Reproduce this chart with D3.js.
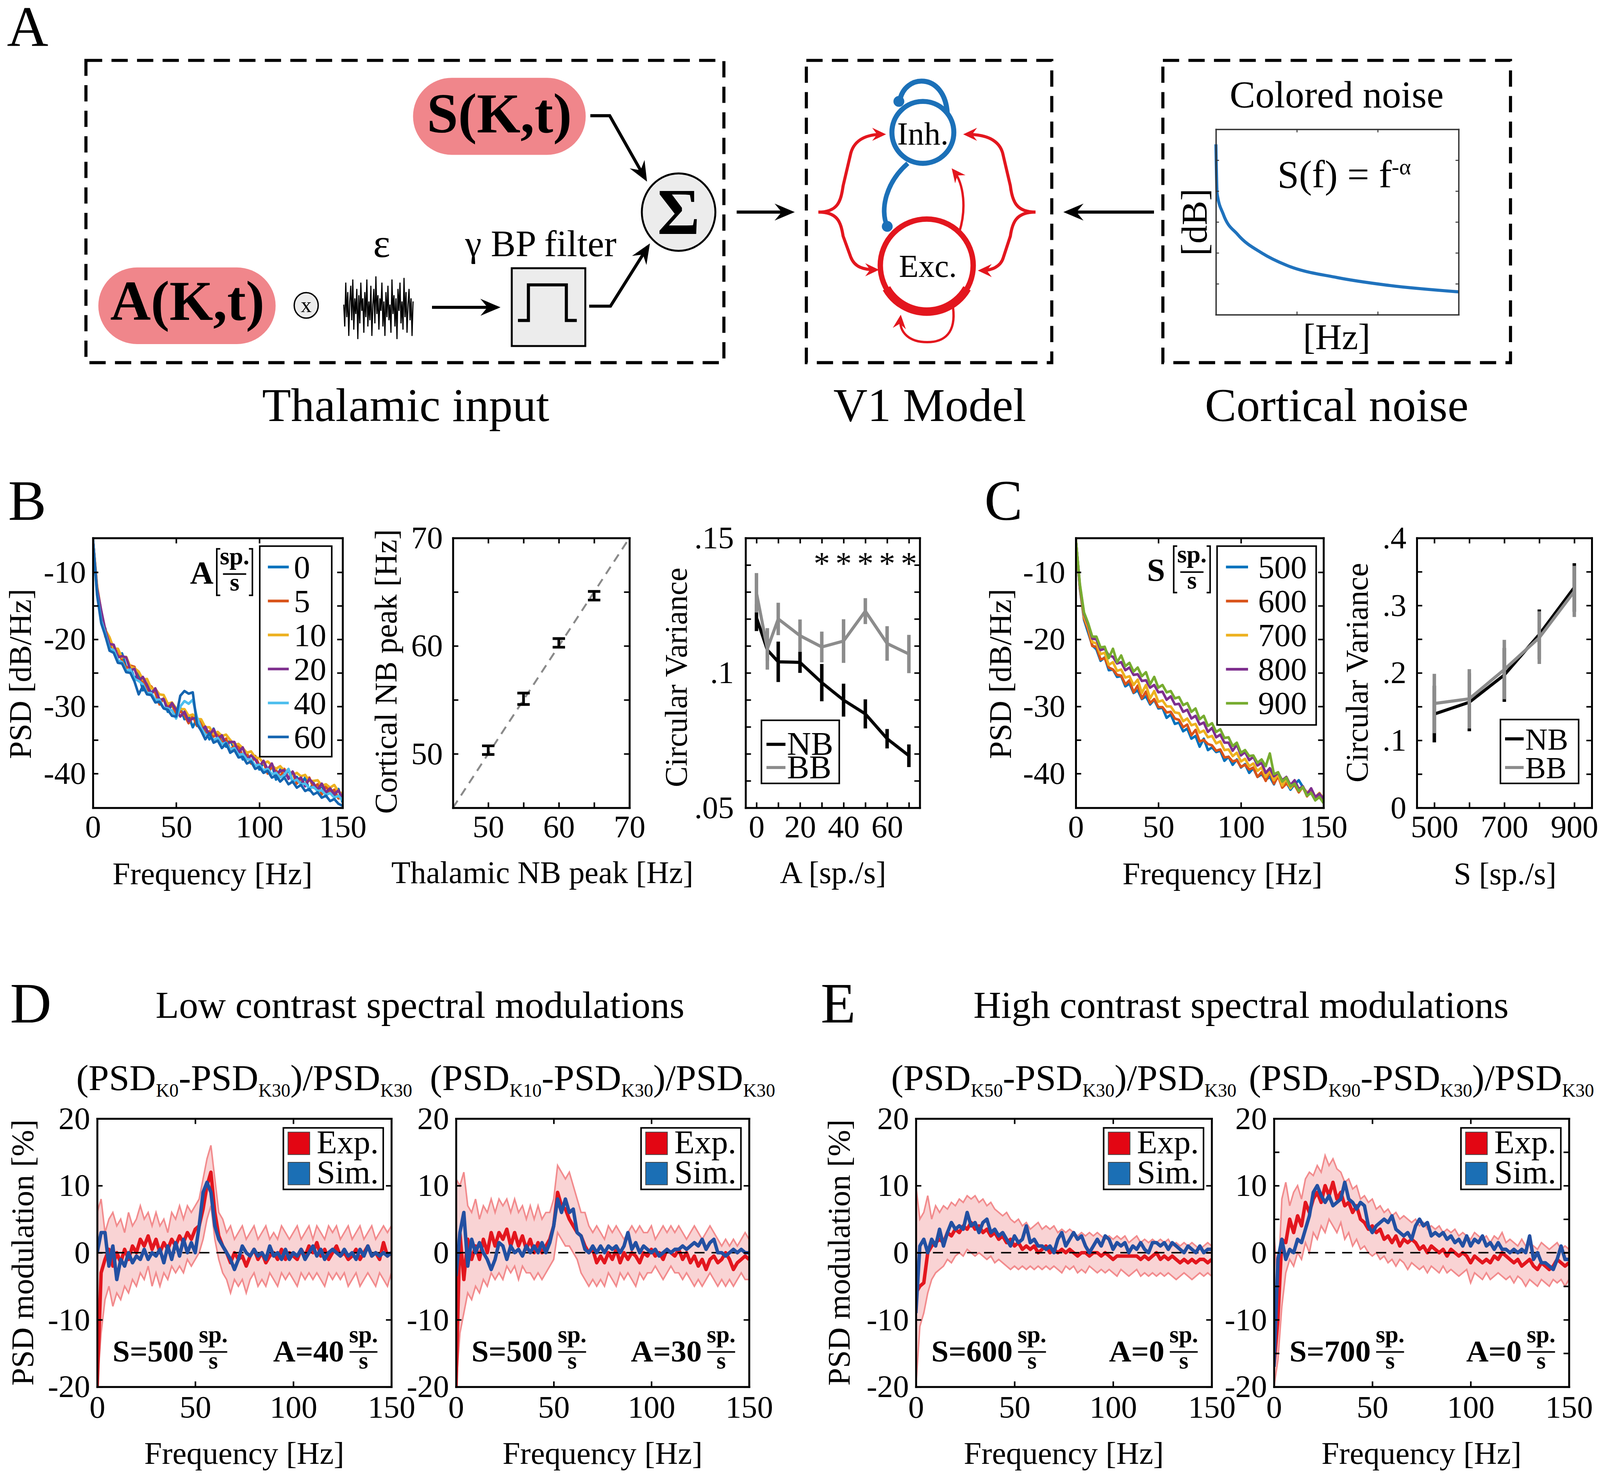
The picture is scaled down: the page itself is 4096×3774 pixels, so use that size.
<!DOCTYPE html>
<html><head><meta charset="utf-8">
<script src="https://cdn.jsdelivr.net/npm/d3@7"></script>
<style>
html,body{margin:0;padding:0;background:#fff;}
svg{display:block;background:#fff;}
</style></head><body>
<svg id="fig" width="4096" height="3774"></svg>
<script>
// ------------------------------------------------------------------ DATA
// Panel A: noise icon (epsilon) and colored-noise curve
const epsNoise = [0.1,-0.6,0.8,-0.3,0.5,-0.9,0.2,0.7,-0.4,0.9,-0.7,0.3,-0.2,0.6,-1.0,0.4,-0.5,0.8,-0.1,0.3,-0.8,0.5,-0.3,0.9,-0.6,0.2,-0.4,0.7,-0.9,0.1,0.6,-0.5,1.0,-0.2,0.4,-0.7,0.3,-0.1,0.8,-0.6,0.2,-0.9,0.5,-0.3,0.7,-0.4,0.1,-0.8,0.9,-0.2,0.4,-0.6,0.3,-1.0,0.6,-0.1,0.8,-0.5,0.2,-0.7,0.95,-0.3,0.5,-0.8,0.1,0.6,-0.4,0.3,-0.9,0.2];
const colNoiseF = [0, 0.005, 0.03, 0.09, 0.19, 0.29, 0.5, 0.7, 1.0];
const colNoiseP = [0.919, 0.653, 0.543, 0.432, 0.332, 0.267, 0.200, 0.160, 0.123];

// Panel B1: PSD vs frequency for A values (2.5 Hz grid)
const freqB = d3.range(0, 150.01, 2.5);
const legendA = ["0","5","10","20","40","60"];
const colorsA = ["#0072BD","#D95319","#EDB120","#7E2F8E","#4DBEEE","#1565b0"];
const psdA0  = [-5,-12.5,-17.0,-18.4,-21.3,-21.1,-22.6,-22.1,-24.2,-24.1,-25.9,-25.0,-27.6,-26.7,-28.0,-27.4,-29.5,-28.8,-30.8,-29.7,-31.0,-30.2,-31.9,-31.4,-33.1,-31.8,-33.6,-33.1,-34.9,-33.3,-34.9,-34.4,-36.0,-35.0,-36.4,-35.6,-37.9,-37.0,-38.3,-37.4,-39.4,-38.4,-39.6,-38.6,-40.9,-39.4,-40.5,-39.4,-41.3,-40.5,-41.6,-40.6,-42.5,-41.4,-42.7,-41.7,-43.4,-42.2,-43.5,-42.3,-44.3];
const psdA5  = [-5,-12.2,-16.3,-19.6,-20.0,-21.8,-21.5,-23.2,-24.3,-23.9,-24.1,-26.2,-26.1,-27.8,-27.0,-28.0,-29.7,-28.8,-30.1,-29.6,-31.4,-30.7,-31.3,-32.5,-31.4,-32.9,-32.1,-34.2,-33.7,-34.5,-33.8,-35.5,-34.8,-36.5,-35.8,-35.9,-37.4,-37.0,-38.5,-37.4,-38.8,-38.3,-40.0,-39.0,-39.5,-40.5,-39.3,-40.7,-39.9,-41.5,-40.7,-41.8,-40.6,-42.1,-41.6,-43.1,-41.9,-42.9,-42.4,-43.7,-43.6];
const psdA10 = [-5,-12.0,-15.9,-18.6,-19.7,-21.4,-21.4,-22.7,-22.6,-24.1,-24.3,-24.8,-26.0,-25.9,-27.3,-27.4,-28.2,-28.3,-29.6,-29.4,-30.3,-30.4,-30.4,-31.4,-31.2,-31.9,-31.9,-33.1,-33.1,-34.1,-33.8,-34.4,-34.2,-35.0,-35.7,-35.6,-36.2,-36.9,-36.7,-37.6,-37.7,-38.5,-38.2,-38.8,-39.3,-38.9,-39.6,-39.5,-40.2,-39.9,-40.4,-40.2,-41.1,-41.1,-41.0,-41.8,-41.6,-42.1,-41.7,-42.7,-43.0];
const psdA20 = [-5,-12.4,-15.7,-18.7,-20.7,-20.8,-22.7,-22.5,-22.7,-24.6,-24.4,-26.2,-25.6,-26.8,-28.2,-27.3,-29.0,-28.9,-30.5,-29.5,-30.5,-31.5,-30.8,-32.2,-31.8,-31.7,-33.6,-33.0,-34.3,-33.4,-34.8,-34.3,-35.7,-35.3,-35.3,-36.9,-36.1,-37.9,-37.3,-37.9,-39.0,-38.1,-39.4,-38.5,-40.1,-39.6,-39.5,-40.8,-39.7,-41.0,-40.6,-41.9,-40.8,-41.5,-42.4,-41.5,-42.8,-42.2,-43.1,-42.5,-43.7];
const psdA40 = [-5,-13.1,-17.2,-19.2,-21.4,-21.6,-23.1,-23.4,-24.7,-24.5,-25.9,-26.2,-26.7,-28.0,-28.0,-29.0,-29.0,-30.2,-30.3,-30.6,-31.8,-30.0,-29.2,-29.6,-29.0,-31.6,-33.2,-34.2,-34.3,-35.0,-34.7,-35.6,-35.4,-36.4,-36.2,-37.2,-37.1,-37.9,-37.9,-38.8,-38.7,-39.5,-39.3,-40.1,-39.9,-40.6,-40.2,-39.3,-41.2,-40.9,-41.6,-41.5,-42.2,-42.0,-42.6,-42.5,-43.2,-42.9,-43.6,-43.3,-44.0];
const psdA60 = [-5,-13.4,-17.6,-19.5,-21.7,-22.0,-23.5,-23.6,-24.9,-25.0,-26.3,-28.2,-27.0,-28.2,-28.3,-29.4,-29.3,-30.3,-30.5,-31.4,-31.5,-28.4,-27.7,-28.1,-27.9,-32.6,-33.6,-34.9,-34.0,-35.4,-35.1,-36.2,-35.5,-36.9,-36.5,-37.6,-37.5,-38.5,-38.2,-39.3,-39.0,-39.9,-39.6,-40.6,-40.3,-41.2,-40.6,-41.6,-41.2,-42.1,-41.7,-42.6,-42.3,-43.1,-42.8,-43.6,-43.3,-44.1,-43.8,-44.5,-44.8];

// Panel B2: thalamic vs cortical NB peak
const thalPeak = [50, 55, 60, 65];
const cortPeak = [50.34, 55.1, 60.28, 64.65];
const cortErr  = [0.4, 0.53, 0.4, 0.4];

// Panel B3: circular variance vs A
const aVals   = [0, 5, 10, 20, 30, 40, 50, 60, 70];
const cvNB    = [0.1205,0.1085,0.1041,0.1039,0.0964,0.0899,0.0848,0.0756,0.0693];
const cvNBerr = [0.005,0.004,0.0075,0.0039,0.0069,0.0061,0.0054,0.0036,0.0042];
const cvBB    = [0.1297,0.1089,0.120,0.1138,0.1096,0.1118,0.1229,0.1109,0.107];
const cvBBerr = [0.0073,0.0077,0.006,0.006,0.0057,0.0081,0.0048,0.0064,0.0071];
const starA   = [30, 40, 50, 60, 70];

// Panel C1: PSD for S values (2.5 Hz grid)
const legendS = ["500","600","700","800","900"];
const colorsS = ["#0072BD","#D95319","#EDB120","#7E2F8E","#77AC30"];
const psdS500 = [-5,-12.5,-17.1,-19.0,-20.9,-21.5,-23.2,-22.7,-24.6,-24.5,-25.6,-25.5,-27.0,-26.6,-28.0,-27.6,-28.9,-28.5,-29.7,-29.0,-30.3,-30.2,-31.7,-31.2,-32.6,-32.4,-33.7,-33.3,-34.8,-34.4,-36.0,-34.8,-36.5,-36.1,-36.8,-36.6,-38.1,-37.5,-38.7,-37.9,-39.1,-38.6,-39.9,-39.2,-40.5,-40.1,-40.9,-40.5,-41.6,-40.2,-41.9,-41.3,-42.4,-41.6,-41.0,-42.0,-43.3,-42.6,-43.7,-43.1,-44.0];
const psdS600 = [-5,-12.3,-16.9,-18.6,-21.0,-21.1,-23.0,-22.8,-24.2,-24.5,-25.3,-25.4,-26.7,-26.1,-27.9,-26.9,-28.8,-27.8,-29.5,-28.9,-30.1,-30.1,-30.9,-30.8,-31.8,-32.0,-33.1,-32.7,-34.3,-33.5,-35.2,-35.0,-35.6,-35.8,-36.6,-36.4,-37.6,-37.5,-38.2,-38.0,-39.0,-38.7,-39.4,-39.1,-40.5,-39.8,-41.1,-39.7,-41.5,-40.4,-42.1,-41.5,-42.0,-41.7,-42.8,-42.0,-43.4,-42.6,-43.9,-42.9,-44.0];
const psdS700 = [-5,-12.2,-16.6,-18.2,-20.4,-20.6,-22.2,-22.0,-23.8,-23.4,-24.7,-24.5,-25.7,-25.5,-26.8,-26.0,-28.0,-26.8,-28.8,-27.7,-29.3,-29.1,-30.0,-30.0,-30.9,-31.0,-32.2,-31.8,-32.8,-32.6,-33.9,-33.6,-34.6,-34.4,-35.5,-35.2,-36.5,-36.4,-37.4,-36.9,-38.2,-37.8,-38.9,-38.5,-39.6,-39.1,-40.5,-39.6,-41.0,-40.1,-41.8,-40.8,-42.2,-41.2,-42.6,-42.1,-42.8,-42.5,-43.5,-42.9,-43.7];
const psdS800 = [-5,-12.0,-16.2,-17.8,-19.9,-20.0,-21.6,-21.4,-22.4,-22.6,-23.6,-23.4,-24.6,-24.2,-25.3,-25.2,-26.2,-26.1,-27.2,-26.8,-27.9,-27.8,-29.0,-28.5,-29.7,-29.6,-30.8,-30.5,-31.8,-31.4,-32.7,-32.4,-33.8,-33.2,-34.6,-34.2,-35.4,-35.4,-36.6,-35.7,-37.3,-36.8,-38.0,-37.5,-38.8,-38.4,-39.9,-39.2,-40.4,-39.9,-41.0,-40.5,-41.7,-41.0,-42.3,-41.9,-43.1,-42.2,-43.5,-43.0,-43.8];
const psdS900 = [-5,-11.8,-16.0,-17.6,-19.6,-19.6,-21.2,-21.1,-22.8,-21.4,-23.4,-22.4,-24.0,-23.5,-24.8,-24.2,-25.5,-24.9,-26.7,-25.6,-27.2,-26.8,-27.9,-27.7,-28.8,-28.6,-29.8,-29.5,-30.8,-30.3,-31.9,-31.4,-32.9,-32.5,-33.8,-33.4,-34.7,-34.6,-35.9,-35.4,-36.9,-36.5,-37.4,-37.3,-38.4,-37.9,-38.9,-37.0,-40.1,-39.8,-41.2,-40.6,-41.9,-41.5,-42.6,-42.0,-43.3,-42.9,-44.0,-43.5,-44.4];

// Panel C2: circular variance vs S
const sVals    = [500, 600, 700, 800, 900];
const cv2NB    = [0.139, 0.1565, 0.197, 0.257, 0.3266];
const cv2NBerr = [0.042, 0.043, 0.04, 0.037, 0.036];
const cv2BB    = [0.1546, 0.1616, 0.205, 0.2523, 0.3208];
const cv2BBerr = [0.044, 0.044, 0.044, 0.039, 0.038];

// Panels D/E: PSD modulation [%] vs frequency (2 Hz grid)
const freqD = d3.range(0, 150.01, 2);
const d1Exp = [-20,-3,-1,0.5,-2,0,-1.5,0.5,-1,1,0,2,1,2.5,0.5,2,0,1.5,0.5,2,1,2.5,1.5,3,2,3.5,4,6.5,10,12,6,2.5,1,0,-1.5,0,-1,-0.5,-2,-0.5,0.5,-1,0,-1.5,-0.5,0,-1,0.5,-1,0,-0.5,-1,0.5,-0.5,1,0,1.5,-0.5,0.5,-1,0,1,-0.5,0,-1,-0.5,0.5,-1,0,1,-0.5,0,-1,1.5,-0.5,0];
const d1Up  = [6,8,3,5,6,4,5,3,6,4,5,7,5,6,4,6,4,5,3,6,5,7,5,7,6,7,8,11,14,16,11,6,5,3,4,2,3,4,2,3,4,2,3,4,2,3,2,4,3,2,3,4,2,3,4,2,4,3,2,4,3,4,2,3,4,2,3,4,2,3,4,2,3,4,3,4];
const d1Lo  = [-20,-12,-7,-5,-8,-6,-7,-5,-6,-4,-5,-3,-4,-2,-5,-3,-5,-3,-4,-2,-3,-2,-3,-1,-2,-1,0,2,5,7,2,-1,-3,-4,-6,-4,-5,-4,-6,-4,-3,-5,-4,-5,-3,-4,-5,-3,-4,-3,-4,-5,-3,-4,-3,-4,-3,-4,-5,-3,-4,-3,-4,-3,-5,-4,-3,-5,-4,-3,-4,-5,-3,-4,-5,-3];
const d1Sim = [0,3,3,-2,1,-4,-1,-2,0,-1.5,-0.5,-1,0.5,-1,0,-0.5,0.5,-1.5,1,-1,1.5,-0.5,2,0,1.5,0,4,9,10.5,9,4,2,1,0,-1,-2.5,-1,1,0,-0.5,0.5,-0.5,0,-1,1,-0.5,0,-1,0.5,-1,0,-0.5,0.5,-1,0,1,-0.5,0.5,-1,0,0.5,0,-0.5,0.5,-0.5,0,-1,0.5,-0.5,1,-0.5,0,-0.5,0,-0.5,0];

const d2Exp = [-20,3,-4,2,-1,1,-1,2,0,3,1,3,2,3.5,1,3,1,2.5,0.5,2,0,1.5,0,1,2,4,9,7,6.5,5,4,3,2.5,1,0,0.5,-1.5,-0.5,-1.5,0,-1,0.5,-1.5,0,-1,0,-0.5,-1.5,0,-0.5,0.5,-0.5,0,-1,0.5,0,-0.5,0.5,-1,0,-1.5,-0.5,-2,-1,-2.5,-1,-0.5,-1.5,-1,0,-1,-2.5,-1.5,-1,-0.5,-1];
const d2Up  = [11,10,12,7,6,8,5,7,6,8,6,8,7,8,6,8,6,7,5,7,5,7,5,6,6,8,13,12,11,12,10,8,6,6,4,3,4,3,2,4,3,4,3,2,3,4,3,4,3,3,4,2,3,4,3,4,3,4,3,2,3,4,3,2,3,4,3,2,1,2,1,2,1,2,3,2];
const d2Lo  = [-20,-12,-9,-6,-7,-5,-6,-4,-5,-3,-4,-3,-4,-2,-3,-2,-4,-2,-3,-3,-4,-3,-4,-3,-2,-1,3,2,1,1,0,-1,-3,-4,-5,-4,-5,-4,-5,-3,-4,-5,-3,-4,-3,-4,-5,-3,-4,-3,-3,-2,-3,-4,-3,-2,-3,-3,-4,-3,-4,-5,-4,-5,-4,-3,-4,-5,-4,-5,-4,-5,-4,-3,-4,-4];
const d2Sim = [-3.5,3,6,-2,2,0,1.5,0,-1,-2.5,-1,1.5,1,-1,1,0,0.5,-0.5,1,0,1,0,1.5,0,1.5,4,8,6,8,6,6.5,3,2.5,0.5,0,1,0,1,0,1,0.5,1,0,1,3,0.5,1.5,0,1,0.5,0,0.5,-0.5,0,0.5,0,0.5,0.5,1,0.5,1,1.5,1,2,0.5,1.5,2,0,0,-0.5,0,0.5,0,0.5,0,0];

const e1Exp = [-6,-5,-4.5,0,1,1.5,2,1.5,3,2.5,3.5,3,4,3.5,4.5,3.5,4,3,3.5,2.5,3,2,2.5,1.5,2,1,1.5,0.5,1,0.5,1,0,0.5,1,0,0.5,0,0.5,0,0.5,0,-0.5,0,0,-0.5,0,0,-0.5,0,-0.5,-1,-0.5,-0.5,-0.5,-0.5,-0.5,-0.5,-1,-0.5,-1,-0.5,0,-1,-0.5,-1,-0.5,-1,-1.5,-1,-1.5,-1,-1.5,-1,-1,-1.5,-1];
const e1Up  = [10,5,6,8.5,5,7,6,7,6.5,7.5,7,8,7.5,8.5,8,8.5,7.5,8,7,7.5,6.5,6,5.5,6,5,4.5,5,4,4.5,3.5,4,4.5,3.5,4,3.5,4,3,3.5,3,3.5,3,2.5,3,2.5,3,2.5,3,2.5,2,2.5,2,2.5,2,2.5,1.5,2,2.5,1.5,2,1.5,2,1.5,2,1.5,2,1,1.5,1,1.5,1,1.5,1,0.5,1,1.5,1];
const e1Lo  = [-20,-11,-9,-6,-4,-3,-2.5,-2,-1,-1.5,-0.5,0,-0.5,0.5,0,-0.5,0,-0.5,-1,-0.5,-1.5,-1,-1.5,-2,-2.5,-2,-2.5,-2,-2.5,-2,-2.5,-2,-2.5,-2,-2.5,-2,-2.5,-3,-2,-2.5,-2,-3,-2.5,-3,-2,-2.5,-3,-2.5,-3,-2.5,-3,-3.5,-2.5,-3,-3.5,-3,-2.5,-3.5,-3,-3.5,-3,-3.5,-3,-3.5,-3,-3.5,-4,-3.5,-3,-3.5,-4,-3.5,-3,-3.5,-3,-3.5];
const e1Sim = [-9,1,2,0,2,1,3.5,1,3,4.5,3.5,4,3.5,6,4,4.5,3,4.5,5,3,3.5,2.5,3,2,1,2.5,1.5,2,4,1.5,2,1,1,0.5,1,0,2,3,1,2,3,2,2.5,1,0,1,2,1,2.5,2,0.5,1.5,1,1.5,0,1,0.5,1.5,0.5,0,1.5,1.5,1,1.5,0.5,1.5,1,0.5,0,1,0.5,0,1,0,0.5,0.5];

const e2Exp = [-17,-10,2,1.5,5,3,5.5,4,7.5,6,8,9,7.5,10,8.5,10.5,8,9,7,7.5,6,7,5,4.5,3.5,4,3,3.5,2,2.5,1.5,2.5,1,2,1.5,2,1.5,0.5,1,0,1,0.5,0,0.5,-0.5,0.5,0,-0.5,0,-0.5,-1.5,-0.5,-1,-1.5,-1,-1.5,-0.5,-1,0,-0.5,-1,-1.5,-1,-2,-1.5,-1,-2,-2.5,-1.5,-2,-2.5,-2,-1,-1.5,-2,-1.5];
const e2Up  = [3,-5,8,10.5,7,9,10,8,11,12,11.5,13,12,14.5,13,14,12.5,12,10.5,11,9.5,10,8,8.5,7.5,8,6.5,7,6,6.5,5.5,6,5,5.5,5,4.5,5,4,4.5,3.5,4,3.5,4,3,3.5,3,3.5,2.5,3,2.5,2,3,2.5,2,2.5,1.5,2.5,2,3,1.5,2,1.5,1,2,1,1.5,1,0.5,1.5,1,0.5,1,1.5,0.5,1,0.5];
const e2Lo  = [-20,-16,-8,-3,-1,-2,0,-1,1.5,0,3,2,4,3,5,4,3,4.5,2,3,1,2,0.5,1,0,-0.5,0,-1,-0.5,-1.5,-1,-2,-1,-1.5,-2.5,-1.5,-2,-2.5,-2,-3,-2,-2.5,-3,-2,-3,-2.5,-3,-3.5,-3,-2.5,-4.5,-3,-3.5,-4,-3,-4,-3.5,-3,-3.5,-4,-3.5,-4.5,-3.5,-4,-5,-4,-4.5,-5,-4,-4.5,-5,-4,-4.5,-4,-5,-4];
const e2Sim = [-17,-1,2,-1,0.5,0,2,1.5,3.5,5.5,9,10,8.5,7.5,8.5,7,7.5,8,10.5,8,7.5,6.5,7.5,7,4,3,4,4.5,5,4.5,5.5,3.5,3,2.5,3,2,4,5,4,4.5,2.5,3,2.5,3,2,2.5,1.5,2,1,2.5,1,2,1.5,2.5,1,1.5,0.5,1.5,0.5,0.5,0,0.5,0,0.5,0,2.5,-1,0,-1.5,-1.5,-2,-2.5,-1,1,-1,-1];

// ------------------------------------------------------------------ SETUP
const FONT = '"Liberation Serif","Times New Roman",Times,serif';
const RED = "#e3161e", BLUE_V1 = "#1b70b8", PINK = "#f0868b";
const svg = d3.select('#fig');
const defs = svg.append('defs');
const root = svg.append('g').attr('transform', 'scale(0.991)');

function arrowMarker(id, color, L, W) {
  defs.append('marker').attr('id', id).attr('markerUnits', 'userSpaceOnUse')
    .attr('viewBox', `${-0.75 * L} ${-W / 2} ${L} ${W}`)
    .attr('markerWidth', L).attr('markerHeight', W)
    .attr('refX', 0).attr('refY', 0).attr('orient', 'auto')
    .append('path')
    .attr('d', `M${0.25 * L},0 L${-0.75 * L},${-W / 2} L${-0.4 * L},0 L${-0.75 * L},${W / 2} Z`)
    .attr('fill', color);
}
arrowMarker('arrK', '#000', 52, 44);
arrowMarker('arrR', RED, 36, 34);

function txt(x, y, s, size, anchor = 'start', weight = 'normal', parent = root) {
  return parent.append('text').attr('x', x).attr('y', y).attr('font-size', size)
    .attr('text-anchor', anchor).attr('font-weight', weight)
    .attr('font-family', FONT).attr('fill', '#000').text(s);
}
function vtxt(x, cy, s, size) {
  return root.append('text').attr('transform', `translate(${x},${cy}) rotate(-90)`)
    .attr('text-anchor', 'middle').attr('font-size', size)
    .attr('font-family', FONT).attr('fill', '#000').text(s);
}

// ------------------------------------------------------------------ AXES HELPER
let clipN = 0;
function axes(cfg) {
  const x = d3.scaleLinear().domain(cfg.xDom).range([cfg.x0, cfg.x1]);
  const y = d3.scaleLinear().domain(cfg.yDom).range([cfg.y1, cfg.y0]);
  const id = 'clip' + (clipN++);
  defs.append('clipPath').attr('id', id).append('rect')
    .attr('x', cfg.x0).attr('y', cfg.y0).attr('width', cfg.x1 - cfg.x0).attr('height', cfg.y1 - cfg.y0);
  const g = root.append('g');
  const plot = g.append('g').attr('clip-path', `url(#${id})`);
  const over = g.append('g');
  const axG = g.append('g');
  const TL = 14;
  const fmt = cfg.fmt || (d => String(d));
  const has = (arr, d) => arr.some(v => Math.abs(v - d) < 1e-9);
  axG.append('g').attr('transform', `translate(0,${cfg.y1})`)
    .call(d3.axisBottom(x).tickValues(cfg.xTicks).tickSizeInner(-TL).tickSizeOuter(0)
      .tickPadding(cfg.xPad || 18).tickFormat(d => has(cfg.xLabels, d) ? fmt(d) : ''));
  axG.append('g').attr('transform', `translate(0,${cfg.y0})`)
    .call(d3.axisTop(x).tickValues(cfg.xTicks).tickSizeInner(-TL).tickSizeOuter(0).tickFormat(''));
  axG.append('g').attr('transform', `translate(${cfg.x0},0)`)
    .call(d3.axisLeft(y).tickValues(cfg.yTicks).tickSizeInner(-TL).tickSizeOuter(0)
      .tickPadding(cfg.yPad || 18).tickFormat(d => has(cfg.yLabels, d) ? fmt(d) : ''));
  axG.append('g').attr('transform', `translate(${cfg.x1},0)`)
    .call(d3.axisRight(y).tickValues(cfg.yTicks).tickSizeInner(-TL).tickSizeOuter(0).tickFormat(''));
  axG.selectAll('.domain').attr('stroke', '#000').attr('stroke-width', 5).attr('stroke-linecap', 'square');
  axG.selectAll('.tick line').attr('stroke', '#000').attr('stroke-width', 4);
  axG.selectAll('text').attr('font-size', cfg.tickFont || 82).attr('font-family', FONT).attr('fill', '#000');
  return { x, y, plot, over };
}
const cvFmt = d => (d === 0 ? '0' : String(+d.toFixed(3)).replace(/^0\./, '.'));

// ------------------------------------------------------------------ PANEL A
txt(18, 118, 'A', 148);
const dash = { 'stroke': '#000', 'stroke-width': 8, 'fill': 'none', 'stroke-dasharray': '42,24' };
function dashedBox(x0, y0, x1, y1) {
  const r = root.append('rect').attr('x', x0).attr('y', y0).attr('width', x1 - x0).attr('height', y1 - y0);
  Object.entries(dash).forEach(([k, v]) => r.attr(k, v));
}
dashedBox(222, 156, 1870, 937);
dashedBox(2083, 156, 2717, 937);
dashedBox(3004, 156, 3902, 937);

// pills
root.append('rect').attr('x', 1067).attr('y', 201).attr('width', 446).attr('height', 199).attr('rx', 100).attr('ry', 99).attr('fill', PINK);
txt(1290, 342, 'S(K,t)', 145, 'middle', 'bold');
root.append('rect').attr('x', 254).attr('y', 691).attr('width', 458).attr('height', 198).attr('rx', 100).attr('ry', 99).attr('fill', PINK);
txt(484, 826, 'A(K,t)', 145, 'middle', 'bold');

// otimes
root.append('ellipse').attr('cx', 791).attr('cy', 789).attr('rx', 31).attr('ry', 33).attr('fill', '#ececec').attr('stroke', '#000').attr('stroke-width', 3.5);
txt(791, 806, 'x', 56, 'middle');

// epsilon noise
const epsX = d3.scaleLinear().domain([0, epsNoise.length - 1]).range([888, 1067]);
const epsY = d3.scaleLinear().domain([-1, 1]).range([876, 714]);
root.append('path').attr('d', d3.line().x((d, i) => epsX(i)).y(d => epsY(d))(epsNoise))
  .attr('fill', 'none').attr('stroke', '#000').attr('stroke-width', 3);
txt(986, 664, 'ε', 105, 'middle');
txt(1397, 662, 'γ BP filter', 96, 'middle');

// filter box
root.append('rect').attr('x', 1322).attr('y', 693).attr('width', 190).attr('height', 201).attr('fill', '#ececec').attr('stroke', '#000').attr('stroke-width', 5);
root.append('path').attr('d', 'M1338,828 L1365,828 L1365,736 L1463,736 L1463,828 L1490,828')
  .attr('fill', 'none').attr('stroke', '#000').attr('stroke-width', 8);

// sigma
root.append('ellipse').attr('cx', 1753).attr('cy', 548).attr('rx', 95).attr('ry', 100).attr('fill', '#ececec').attr('stroke', '#000').attr('stroke-width', 5);
txt(1753, 604, 'Σ', 168, 'middle', 'bold');

// arrows (black)
function arrow(d, color = '#000', w = 8, mk = 'arrK') {
  root.append('path').attr('d', d).attr('fill', 'none').attr('stroke', color)
    .attr('stroke-width', w).attr('marker-end', `url(#${mk})`);
}
arrow('M1525,299 L1575,299 L1665,458');
arrow('M1522,791 L1577,791 L1672,640');
arrow('M1116,794 L1280,794');
arrow('M1903,548 L2040,548');
arrow('M2981,548 L2760,548');

// V1 model
root.append('circle').attr('cx', 2384).attr('cy', 342).attr('r', 80).attr('fill', 'none').attr('stroke', BLUE_V1).attr('stroke-width', 13);
root.append('path').attr('d', 'M2324,262 C2335,190 2440,185 2447,292').attr('fill', 'none').attr('stroke', BLUE_V1).attr('stroke-width', 13);
root.append('circle').attr('cx', 2322).attr('cy', 262).attr('r', 14).attr('fill', BLUE_V1);
root.append('path').attr('d', 'M2345,422 C2290,470 2272,540 2292,585').attr('fill', 'none').attr('stroke', BLUE_V1).attr('stroke-width', 12);
root.append('circle').attr('cx', 2292).attr('cy', 585).attr('r', 14).attr('fill', BLUE_V1);
root.append('circle').attr('cx', 2394).attr('cy', 686).attr('r', 120).attr('fill', 'none').attr('stroke', RED).attr('stroke-width', 14);
root.append('path').attr('d', 'M2290,745 A120,120 0 0 0 2498,745').attr('fill', 'none').attr('stroke', RED).attr('stroke-width', 22);
arrow('M2478,600 C2497,540 2490,475 2464,442', RED, 6, 'arrR');
arrow('M2462,795 C2470,860 2440,884 2395,884 C2350,884 2322,860 2326,822', RED, 6, 'arrR');
arrow('M2114,548 C2165,548 2172,520 2178,480 L2198,395 C2208,360 2240,347 2280,347', RED, 8, 'arrR');
arrow('M2114,548 C2165,548 2172,575 2178,610 L2198,665 C2208,690 2230,697 2262,697', RED, 8, 'arrR');
arrow('M2675,548 C2625,548 2615,520 2610,480 L2590,395 C2580,360 2545,347 2497,347', RED, 8, 'arrR');
arrow('M2675,548 C2625,548 2615,575 2610,610 L2592,665 C2585,690 2560,699 2535,699', RED, 8, 'arrR');
txt(2384, 373, 'Inh.', 84, 'middle');
txt(2397, 715, 'Exc.', 83, 'middle');

// Colored noise inset
txt(3453, 278, 'Colored noise', 99, 'middle');
{
  const xN = d3.scaleLinear().domain([0, 1]).range([3141, 3768]);
  const yN = d3.scaleLinear().domain([0, 1]).range([813, 334]);
  const gN = root.append('g');
  gN.append('path').attr('d', d3.line().x((d, i) => xN(colNoiseF[i])).y(d => yN(d)).curve(d3.curveMonotoneX)(colNoiseP))
    .attr('fill', 'none').attr('stroke', '#1f72bd').attr('stroke-width', 8);
  const ax = gN.append('g');
  ax.append('g').attr('transform', 'translate(0,813)').call(d3.axisBottom(xN).tickValues([1/3, 2/3]).tickSizeInner(-8).tickSizeOuter(0).tickFormat(''));
  ax.append('g').attr('transform', 'translate(0,334)').call(d3.axisTop(xN).tickValues([1/3, 2/3]).tickSizeInner(-8).tickSizeOuter(0).tickFormat(''));
  ax.append('g').attr('transform', 'translate(3141,0)').call(d3.axisLeft(yN).tickValues([1/6, 2/6, 3/6, 4/6, 5/6]).tickSizeInner(-8).tickSizeOuter(0).tickFormat(''));
  ax.append('g').attr('transform', 'translate(3768,0)').call(d3.axisRight(yN).tickValues([1/6, 2/6, 3/6, 4/6, 5/6]).tickSizeInner(-8).tickSizeOuter(0).tickFormat(''));
  ax.selectAll('.domain').attr('stroke', '#333').attr('stroke-width', 3.5).attr('stroke-linecap', 'square');
  ax.selectAll('.tick line').attr('stroke', '#333').attr('stroke-width', 2.5);
}
{
  const t = txt(3300, 484, 'S(f) = f', 100, 'start');
  t.append('tspan').attr('font-size', 58).attr('dy', -34).text('-α');
}
vtxt(3117, 574, '[dB]', 95);
txt(3453, 902, '[Hz]', 95, 'middle');

txt(1048, 1088, 'Thalamic input', 122, 'middle');
txt(2402, 1088, 'V1 Model', 122, 'middle');
txt(3453, 1088, 'Cortical noise', 122, 'middle');

// ------------------------------------------------------------------ PANEL B
txt(21, 1343, 'B', 148);
txt(2543, 1343, 'C', 148);

function bracket(x, y0, y1, dir) {
  root.append('path').attr('d', `M${x + dir * 9},${y0} H${x} V${y1} H${x + dir * 9}`)
    .attr('fill', 'none').attr('stroke', '#000').attr('stroke-width', 4);
}
function fracSp(cx, yLine, font, half) {
  txt(cx, yLine - 25, 'sp.', font, 'middle', 'bold');
  root.append('line').attr('x1', cx - half).attr('x2', cx + half).attr('y1', yLine).attr('y2', yLine)
    .attr('stroke', '#000').attr('stroke-width', 4);
  txt(cx, yLine + 43, 's', font, 'middle', 'bold');
}
function psdLegend(x0, y0, w, h, labels, colors, y1st, step, lx0, lx1, tx, font) {
  root.append('rect').attr('x', x0).attr('y', y0).attr('width', w).attr('height', h)
    .attr('fill', '#fff').attr('stroke', '#000').attr('stroke-width', 4);
  labels.forEach((lab, i) => {
    const cy = y1st + i * step;
    root.append('line').attr('x1', lx0).attr('x2', lx1).attr('y1', cy).attr('y2', cy)
      .attr('stroke', colors[i]).attr('stroke-width', 7);
    txt(tx, cy + 28, lab, font);
  });
}

// B1
{
  const a = axes({ x0: 240, x1: 885, y0: 1390, y1: 2087, xDom: [0, 150], yDom: [-45.1, -4.9],
    xTicks: [0, 50, 100, 150], xLabels: [0, 50, 100, 150],
    yTicks: [-40, -35, -30, -25, -20, -15, -10], yLabels: [-40, -30, -20, -10], yPad: 18 });
  const series = [psdA0, psdA5, psdA10, psdA20, psdA40, psdA60];
  const line = d3.line().x((d, i) => a.x(freqB[i])).y(d => a.y(d));
  series.forEach((s, k) => a.plot.append('path').attr('d', line(s)).attr('fill', 'none')
    .attr('stroke', colorsA[k]).attr('stroke-width', 6.5).attr('stroke-linejoin', 'round'));
  psdLegend(671, 1411, 186, 544, legendA, colorsA, 1465, 87.8, 692, 746, 759, 84);
  txt(491, 1508, 'A', 84, 'start', 'bold');
  bracket(560, 1418, 1538, 1); bracket(652, 1418, 1538, -1);
  fracSp(606, 1483, 64, 30);
  vtxt(80, 1741, 'PSD [dB/Hz]', 82);
  txt(549, 2285, 'Frequency [Hz]', 82, 'middle');
}
// B2
{
  const a = axes({ x0: 1170, x1: 1626, y0: 1390, y1: 2087, xDom: [45, 70], yDom: [45, 70],
    xTicks: [50, 55, 60, 65, 70], xLabels: [50, 60, 70],
    yTicks: [50, 55, 60, 65, 70], yLabels: [50, 60, 70], yPad: 26 });
  a.plot.append('path').attr('d', d3.line().x(d => a.x(d)).y(d => a.y(d))([45, 70]))
    .attr('stroke', '#8a8a8a').attr('stroke-width', 5).attr('stroke-dasharray', '22,16').attr('fill', 'none');
  thalPeak.forEach((t, i) => {
    const cx = a.x(t), yt = a.y(cortPeak[i] + cortErr[i]), yb = a.y(cortPeak[i] - cortErr[i]);
    a.over.append('path').attr('d', `M${cx - 16},${yt} H${cx + 16} M${cx},${yt} V${yb} M${cx - 16},${yb} H${cx + 16}`)
      .attr('stroke', '#000').attr('stroke-width', 7).attr('fill', 'none');
  });
  vtxt(1024, 1735, 'Cortical NB peak [Hz]', 81);
  txt(1401, 2282, 'Thalamic NB peak [Hz]', 81, 'middle');
}
// B3
{
  const a = axes({ x0: 1926, x1: 2376, y0: 1390, y1: 2087, xDom: [-5, 75], yDom: [0.05, 0.15],
    xTicks: [0, 10, 20, 30, 40, 50, 60, 70], xLabels: [0, 20, 40, 60],
    yTicks: d3.range(0.05, 0.1501, 0.01).map(v => +v.toFixed(2)), yLabels: [0.05, 0.1, 0.15], yPad: 30, fmt: cvFmt });
  const line = d3.line().x((d, i) => a.x(aVals[i])).y(d => a.y(d));
  [[cvNB, cvNBerr, '#000'], [cvBB, cvBBerr, '#8c8c8c']].forEach(([v, e, c]) => {
    a.plot.append('path').attr('d', line(v)).attr('fill', 'none').attr('stroke', c).attr('stroke-width', 8);
    v.forEach((m, i) => a.plot.append('line').attr('x1', a.x(aVals[i])).attr('x2', a.x(aVals[i]))
      .attr('y1', a.y(m - e[i])).attr('y2', a.y(m + e[i])).attr('stroke', c).attr('stroke-width', 9));
  });
  starA.forEach(s => a.over.append('text').attr('x', a.x(s)).attr('y', a.y(0.1423) + 40)
    .attr('text-anchor', 'middle').attr('font-size', 84).attr('font-family', FONT).text('*'));
  root.append('rect').attr('x', 1967).attr('y', 1861).attr('width', 201).attr('height', 163)
    .attr('fill', '#fff').attr('stroke', '#000').attr('stroke-width', 4);
  [['NB', '#000', 1923], ['BB', '#8c8c8c', 1983]].forEach(([l, c, cy]) => {
    root.append('line').attr('x1', 1980).attr('x2', 2029).attr('y1', cy).attr('y2', cy).attr('stroke', c).attr('stroke-width', 8);
    txt(2033, cy + 28, l, 86);
  });
  vtxt(1774, 1750, 'Circular Variance', 81);
  txt(2152, 2282, 'A [sp./s]', 81, 'middle');
}
// C1
{
  const a = axes({ x0: 2779, x1: 3419, y0: 1390, y1: 2087, xDom: [0, 150], yDom: [-45.1, -4.9],
    xTicks: [0, 50, 100, 150], xLabels: [0, 50, 100, 150],
    yTicks: [-40, -35, -30, -25, -20, -15, -10], yLabels: [-40, -30, -20, -10], yPad: 27 });
  const series = [psdS500, psdS600, psdS700, psdS800, psdS900];
  const line = d3.line().x((d, i) => a.x(freqB[i])).y(d => a.y(d));
  series.forEach((s, k) => a.plot.append('path').attr('d', line(s)).attr('fill', 'none')
    .attr('stroke', colorsS[k]).attr('stroke-width', 6.5).attr('stroke-linejoin', 'round'));
  psdLegend(3144, 1411, 256, 462, legendS, colorsS, 1465, 88, 3167, 3224, 3250, 84);
  txt(2963, 1500, 'S', 84, 'start', 'bold');
  bracket(3032, 1411, 1531, 1); bracket(3126, 1411, 1531, -1);
  fracSp(3079, 1478, 64, 30);
  vtxt(2612, 1741, 'PSD [dB/Hz]', 82);
  txt(3158, 2285, 'Frequency [Hz]', 82, 'middle');
}
// C2
{
  const a = axes({ x0: 3660, x1: 4112, y0: 1390, y1: 2087, xDom: [450, 950], yDom: [0, 0.4],
    xTicks: [500, 600, 700, 800, 900], xLabels: [500, 700, 900],
    yTicks: d3.range(0, 0.401, 0.05).map(v => +v.toFixed(2)), yLabels: [0, 0.1, 0.2, 0.3, 0.4], yPad: 27, fmt: cvFmt });
  const line = d3.line().x((d, i) => a.x(sVals[i])).y(d => a.y(d));
  [[cv2NB, cv2NBerr, '#000'], [cv2BB, cv2BBerr, '#8c8c8c']].forEach(([v, e, c]) => {
    a.plot.append('path').attr('d', line(v)).attr('fill', 'none').attr('stroke', c).attr('stroke-width', 8);
    v.forEach((m, i) => a.plot.append('line').attr('x1', a.x(sVals[i])).attr('x2', a.x(sVals[i]))
      .attr('y1', a.y(m - e[i])).attr('y2', a.y(m + e[i])).attr('stroke', c).attr('stroke-width', 9));
  });
  root.append('rect').attr('x', 3876).attr('y', 1859).attr('width', 202).attr('height', 165)
    .attr('fill', '#fff').attr('stroke', '#000').attr('stroke-width', 4);
  [['NB', '#000', 1909], ['BB', '#8c8c8c', 1983]].forEach(([l, c, cy]) => {
    root.append('line').attr('x1', 3888).attr('x2', 3936).attr('y1', cy).attr('y2', cy).attr('stroke', c).attr('stroke-width', 8);
    txt(3940, cy + 27, l, 80);
  });
  vtxt(3533, 1738, 'Circular Variance', 81);
  txt(3888, 2285, 'S [sp./s]', 81, 'middle');
}

// ------------------------------------------------------------------ PANELS D / E
txt(26, 2642, 'D', 148);
txt(2120, 2642, 'E', 148);
txt(1085, 2630, 'Low contrast spectral modulations', 99, 'middle');
txt(3206, 2630, 'High contrast spectral modulations', 99, 'middle');

function psdTitle(cx, base, k) {
  const t = root.append('text').attr('x', cx).attr('y', base).attr('text-anchor', 'middle')
    .attr('font-size', 95).attr('font-family', FONT);
  t.append('tspan').text('(PSD');
  t.append('tspan').attr('font-size', 48).attr('dy', 18).text('K' + k);
  t.append('tspan').attr('dy', -18).text('-PSD');
  t.append('tspan').attr('font-size', 48).attr('dy', 18).text('K30');
  t.append('tspan').attr('dy', -18).text(')/PSD');
  t.append('tspan').attr('font-size', 48).attr('dy', 18).text('K30');
}

function modPanel(x0, x1, exp, up, lo, sim, k, sV, aV, yTicks, ylab) {
  const y0 = 2890, y1 = 3583;
  const a = axes({ x0, x1, y0, y1, xDom: [0, 150], yDom: [-20, 20],
    xTicks: [0, 50, 100, 150], xLabels: [0, 50, 100, 150], xPad: 22,
    yTicks: yTicks, yLabels: [-20, -10, 0, 10, 20], yPad: 18 });
  const fx = (d, i) => a.x(freqD[i]);
  const area = d3.area().x(fx).y0((d, i) => a.y(lo[i])).y1(d => a.y(d));
  a.plot.append('path').attr('d', area(up)).attr('fill', '#f9d3d4');
  const line = d3.line().x(fx).y(d => a.y(d));
  a.plot.append('path').attr('d', line(up)).attr('fill', 'none').attr('stroke', '#f28b8d').attr('stroke-width', 4);
  a.plot.append('path').attr('d', line(lo)).attr('fill', 'none').attr('stroke', '#f28b8d').attr('stroke-width', 4);
  a.plot.append('path').attr('d', line(exp)).attr('fill', 'none').attr('stroke', RED).attr('stroke-width', 9).attr('stroke-linejoin', 'round');
  a.plot.append('line').attr('x1', x0).attr('x2', x1).attr('y1', a.y(0)).attr('y2', a.y(0))
    .attr('stroke', '#000').attr('stroke-width', 4).attr('stroke-dasharray', '26,18');
  a.plot.append('path').attr('d', line(sim)).attr('fill', 'none').attr('stroke', '#2350a2').attr('stroke-width', 9).attr('stroke-linejoin', 'round');
  // legend
  const lx = x1 - 279, ly = y0 + 24;
  root.append('rect').attr('x', lx).attr('y', ly).attr('width', 258).attr('height', 159)
    .attr('fill', '#fff').attr('stroke', '#000').attr('stroke-width', 4);
  root.append('rect').attr('x', lx + 12).attr('y', ly + 11).attr('width', 56).attr('height', 58)
    .attr('fill', '#e30613').attr('stroke', '#444').attr('stroke-width', 2);
  root.append('rect').attr('x', lx + 12).attr('y', ly + 89).attr('width', 56).attr('height', 58)
    .attr('fill', '#1b6fb5').attr('stroke', '#444').attr('stroke-width', 2);
  txt(lx + 86, ly + 66, 'Exp.', 86);
  txt(lx + 86, ly + 144, 'Sim.', 86);
  // annotations
  const fs = x0 + 300, fa = x1 - 72, yl = y1 - 90;
  txt(fs - 50, y1 - 65, 'S=' + sV, 80, 'end', 'bold');
  fracSp(fs, yl, 62, 36);
  txt(fa - 50, y1 - 65, 'A=' + aV, 80, 'end', 'bold');
  fracSp(fa, yl, 62, 36);
  psdTitle((x0 + x1) / 2, 2816, k);
  txt((x0 + x1) / 2, 3782, 'Frequency [Hz]', 82, 'middle');
  if (ylab) vtxt(ylab, 3236, 'PSD modulation [%]', 82);
}
const t10 = [-20, -10, 0, 10, 20], t5 = [-20, -15, -10, -5, 0, 5, 10, 15, 20];
modPanel(251, 1011, d1Exp, d1Up, d1Lo, d1Sim, '0', '500', '40', t10, 86);
modPanel(1178, 1935, d2Exp, d2Up, d2Lo, d2Sim, '10', '500', '30', t10, null);
modPanel(2366, 3130, e1Exp, e1Up, e1Lo, e1Sim, '50', '600', '0', t10, 2195);
modPanel(3291, 4053, e2Exp, e2Up, e2Lo, e2Sim, '90', '700', '0', t5, null);
</script>
</body></html>
